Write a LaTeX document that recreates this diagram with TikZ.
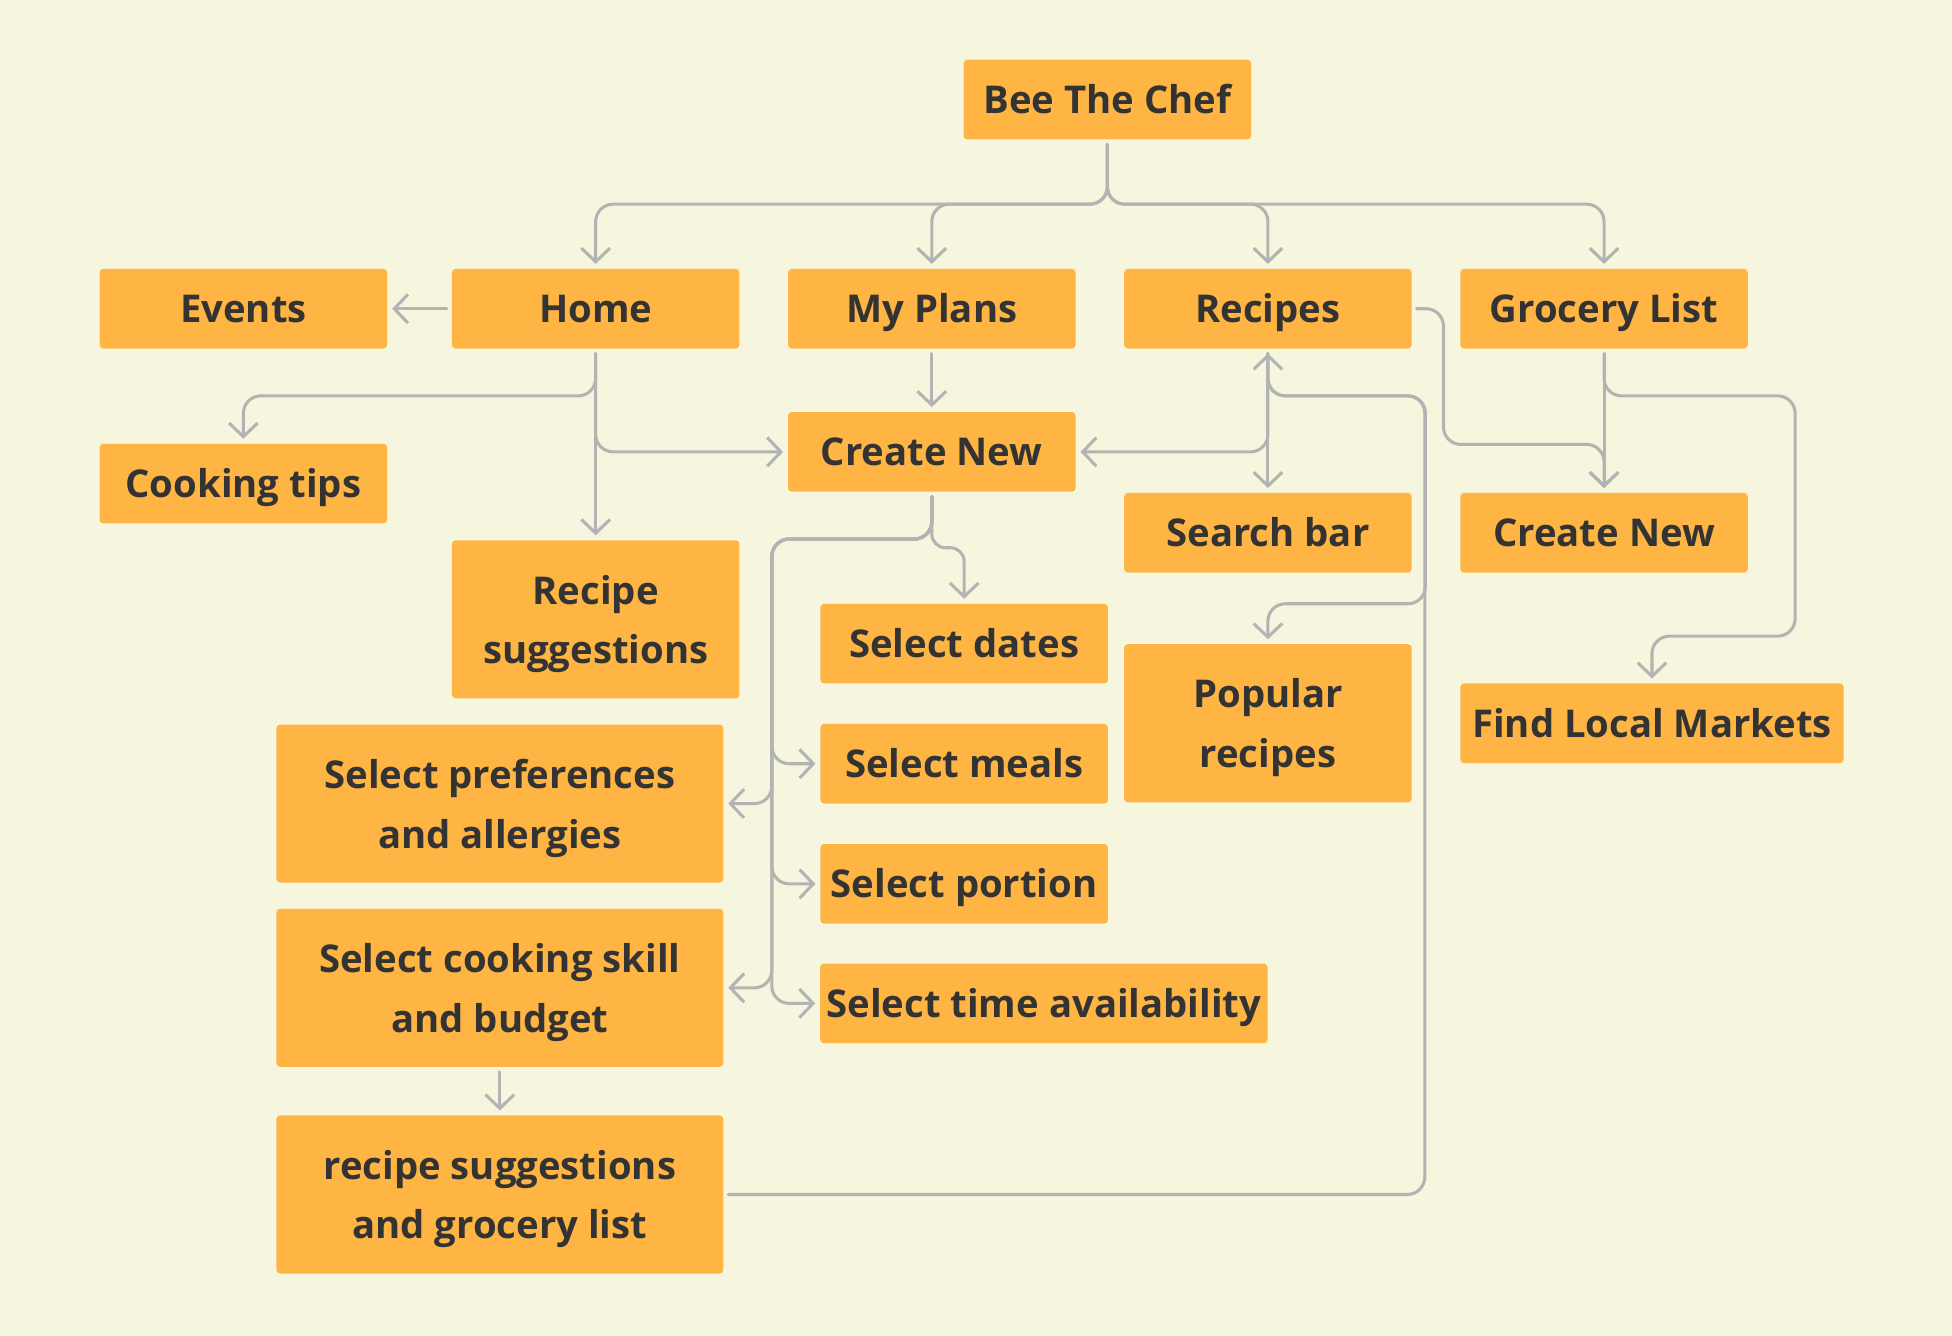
\documentclass[tikz,border=0pt]{standalone}
\usepackage{fontspec}
\setmainfont{Open Sans}
\usetikzlibrary{arrows.meta}

\definecolor{bgcol}{HTML}{F5F6DD}
\definecolor{boxcol}{HTML}{FEB543}
\definecolor{linecol}{HTML}{B3B3B3}
\definecolor{textcol}{HTML}{333333}

\begin{document}
\begin{tikzpicture}[node distance=2cm]

    % Styles des noeuds
    \tikzstyle{box} = [rectangle, rounded corners=0.06cm, minimum width=4.62cm, minimum height=1.28cm, inner sep=0.1cm, outer sep=0.08cm, text centered, fill=boxcol, text=textcol, font=\fontsize{17.5}{27.3}\selectfont\bfseries, text height=12.6pt, text depth=0pt]
    \tikzstyle{tallbox} = [box, minimum height=2.54cm, align=center, text height=, text depth=0pt]
    \tikzstyle{widebox} = [tallbox, minimum width=7.18cm]
    \tikzstyle{arrow} = [line width=1.4pt, draw=linecol, rounded corners=0.28cm, line cap=round, line join=round, -{Straight Barb[length=0.22cm, width=0.46cm]}]

    % Fond
    \fill[bgcol] (-17.79,1.6) rectangle (13.57,-19.86);
    \useasboundingbox (-17.79,1.6) rectangle (13.57,-19.86);

    % Noeuds
    \node (chef) [box] {Bee The Chef};
    \node (home) [box, below of=chef, node distance=3.36cm, xshift=-8.22cm] {Home};
    \node (myplans) [box, right of=home, node distance=5.4cm] {My Plans};
    \node (recipes) [box, right of=myplans, node distance=5.4cm] {Recipes};
    \node (grocery) [box, right of=recipes, node distance=5.4cm] {Grocery List};
    \node (events) [box, left of=home, node distance=5.66cm] {Events};
    \node (tips) [box, below of=events, node distance=2.81cm] {Cooking tips};
    \node (plannew) [box, below of=myplans, node distance=2.3cm] {Create New};
    \node (search) [box, below of=recipes, node distance=3.6cm] {Search bar};
    \node (listnew) [box, below of=grocery, node distance=3.6cm] {Create New};
    \node (recsugg) [tallbox, below of=home, node distance=4.99cm] {Recipe\\suggestions};
    \node (dates) [box, below of=plannew, node distance=3.08cm, xshift=0.52cm] {Select dates};
    \node (meals) [box, below of=dates, node distance=1.93cm] {Select meals};
    \node (portion) [box, below of=meals, node distance=1.93cm] {Select portion};
    \node (timeav) [box, minimum width=7.18cm, below of=portion, node distance=1.92cm, xshift=1.28cm] {Select time availability};
    \node (popular) [tallbox, below of=search, node distance=3.06cm] {Popular\\recipes};
    \node (markets) [box, minimum width=6.16cm, below of=listnew, node distance=3.06cm, xshift=0.77cm] {Find Local Markets};
    \node (prefs) [widebox, below of=recsugg, node distance=2.96cm, xshift=-1.54cm] {Select preferences\\and allergies};
    \node (skill) [widebox, below of=prefs, node distance=2.96cm] {Select cooking skill\\and budget};
    \node (result) [widebox, below of=skill, node distance=3.32cm] {recipe suggestions\\and grocery list};

    % Flèches
    \draw [arrow] (chef.south) -- ++(0,-0.96) -| (home.north);
    \draw [arrow] (chef.south) -- ++(0,-0.96) -| (myplans.north);
    \draw [arrow] (chef.south) -- ++(0,-0.96) -| (recipes.north);
    \draw [arrow] (chef.south) -- ++(0,-0.96) -| (grocery.north);

    \draw [arrow] (home.west) -- (events.east);
    \draw [arrow] (home.south) -- ++(0,-0.68) -| (tips.north);
    \draw [arrow] (home.south) |- (plannew.west);
    \draw [arrow] (home.south) -- (recsugg.north);

    \draw [arrow] (myplans.south) -- (plannew.north);

    \draw [arrow] (recipes.south) -- (search.north);
    \draw [arrow] (recipes.south) |- (plannew.east);
    \draw [arrow] (recipes.south) -- ++(0,-0.68) -- ++(2.53,0) -- ++(0,-3.34) -| (popular.north);
    \draw [arrow] (recipes.east) -- ++(0.43,0) -- ++(0,-2.18) -| (listnew.north);

    \draw [arrow] (grocery.south) -- (listnew.north);
    \draw [arrow] (grocery.south) -- ++(0,-0.68) -- ++(3.07,0) -- ++(0,-3.86) -| (markets.north);

    \draw [arrow, rounded corners=0.22cm] (plannew.south) -- ++(0,-0.82) -| (dates.north);
    \draw [arrow] (plannew.south) -- ++(0,-0.68) -- ++(-2.57,0) |- (meals.west);
    \draw [arrow] (plannew.south) -- ++(0,-0.68) -- ++(-2.57,0) |- (prefs.east);
    \draw [arrow] (plannew.south) -- ++(0,-0.68) -- ++(-2.57,0) |- (portion.west);
    \draw [arrow] (plannew.south) -- ++(0,-0.68) -- ++(-2.57,0) |- (skill.east);
    \draw [arrow] (plannew.south) -- ++(0,-0.68) -- ++(-2.57,0) |- (timeav.west);

    \draw [arrow] (skill.south) -- (result.north);
    \draw [arrow] (result.east) -- ++(11.19,0) -- ++(0,12.83) -| (recipes.south);

\end{tikzpicture}
\end{document}
